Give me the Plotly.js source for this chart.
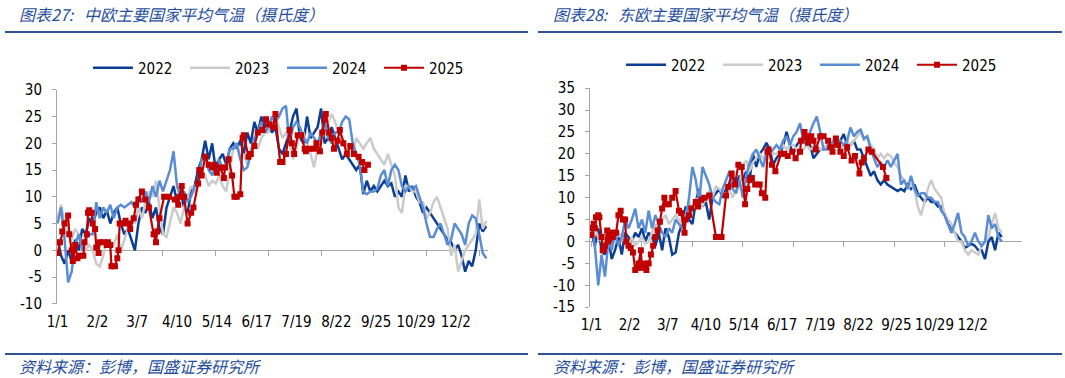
<!DOCTYPE html>
<html><head><meta charset="utf-8">
<script src="https://cdn.plot.ly/plotly-3.0.1.min.js"></script>
<style>html,body{margin:0;padding:0;background:#fff;} #chart{width:1065px;height:378px;}</style>
</head><body><div id="chart"></div>
<script>
// ---------- DATA ----------
const TICK_VALS = [0,34,68,102,136,170,204,238,272,306,340];
const TICK_TEXT = ['1/1','2/2','3/7','4/10','5/14','6/17','7/19','8/22','9/25','10/29','12/2'];
const MINOR_TICKS = [0,45,90,135,180,225,270,315,360];
const Y_TICKS_L = [-10,-5,0,5,10,15,20,25,30];
const Y_TEXT_L = ['-10','-5','0','5','10','15','20','25','30'];
const Y_TICKS_R = [-15,-10,-5,0,5,10,15,20,25,30,35];
const Y_TEXT_R = ['-15','-10','-5','0','5','10','15','20','25','30','35'];

const DAYS = [0,3,6,9,12,15,18,21,24,27,30,33,36,39,42,45,48,51,54,57,60,63,66,69,72,75,78,81,84,87,
90,93,96,99,102,105,108,111,114,117,120,123,126,129,132,135,138,141,144,147,150,153,156,159,162,165,168,171,174,177,
180,183,186,189,192,195,198,201,204,207,210,213,216,219,222,225,228,231,234,237,240,243,246,249,252,255,258,261,264,267,
270,273,276,279,282,285,288,291,294,297,300,303,306,309,312,315,318,321,324,327,330,333,336,339,342,345,348,351,354,357,360,363,366];

// 中欧
const CE_2022 = [2,-1,-2.5,0,-2,2,0,4,3,6, 5,7,8,6,7.5,5,7,8,5,3, 4,2,0,5,8,7,9,6,8,4,
 3,8,10,12,9,11,8,7,11,12, 15,17,20.5,17,20,15,17,18,16,19, 20,19,20.5,18,22,20,24,22,25,23,
 24,22,23,19,18,20,22,25,26.5,21, 20,25,21,22,23,26.5,20,21,23,21, 19,17,18,17,16,15,16,10.5,13,11,
 12,11,12,13,12,12.5,10,11,10,14, 11,12,10,9,7,8,7,6,5,4, 3,2,1.5,0,1,-1,-4,-2,-3,0, 5,3.5,4.5];
const CE_2023 = [6,8.5,5,3,2,4,3,1,0,1, 0,-2.5,-3,-1,2,0.5,1,3,0,2, 4,6,5,8,6,9,11,10,13,8,
 3,2.5,5,8,7,5,8,10,12,11, 12,15,14,12,13,12.5,14,12,11,15, 19,20,17,18,16,19,20,19,21,22,
 22,24,25,23,21,22,20,17,19,22, 22,20,18,15.5,19,21,22,24,25.5,24, 22,21,19,20,18,21,20,19,20,21,
 19,18,17,16,18,16,14,8,7,12, 12,11,11,9,9,6,7,9,10,8, 6,4,-1,1,-4,-2,0,1,2,3, 9.5,4,5.5];
const CE_2024 = [5,8,2,-6,-4,1,3,0,2,3, 3,9,6,8,7,8.5,6,8,8.5,8, 8.5,9,8,10,9,11,9,12,10,13,
 11,13,15,18.5,12,10,11,9,10,12, 13,17,18,15,14,16,17,15,16,19, 19,20,17,15,15.5,18,21,22,24,22,
 23,25,24,25,26.5,27,20,23,24,23, 21,20,22,21,20,22,24,21,20,22, 22,24,25,24.5,20,18,16,11,10.5,11,
 11,11.5,14,15,12,15,16,15,12,11, 12,11.5,12,10,8,5,2.5,2.5,4,5, 3,1,2,5,4,3,1,5,6.5,6, 3,-0.5,-1.5];
const CE_2025_X = [0,2,4,6,9,10,12,13,15,17,19,22,23,25,26,27,29,30,32,33,35,36,39,42,43,45,46,49,51,52,
 53,56,58,61,62,65,67,69,72,75,78,82,84,85,87,91,95,100,103,104,106,108,111,114,116,120,121,123,126,129,
 132,134,136,139,142,143,146,149,151,153,156,158,159,163,165,168,171,175,178,181,184,186,190,192,195,198,200,202,205,208,
 211,212,215,219,221,224,226,228,229,232,234,236,239,241,244,247,250,253,257,260,262,265];
const CE_2025 = [-0.5,1.5,3.5,5,6.5,3,0,-2,1,-1.5,-1,-1,1.5,3,7,7.5,7,5,4,0.5,-0.5,1.5,1.5,1,1.5,1,-3,-3,-1.5,0,
 5,5,5.5,5,4,6,8.5,9.5,11,9.5,8,3,1.5,3.5,6,10,10,9.5,8.5,10,12,10,5,7,8,12.5,15,14,17.5,16,
 15.5,16,14.5,15.5,13.5,15.5,17,14,10,10,10.5,21,21.5,17.5,18,19.5,22,22.5,24.5,23.5,23,25.5,16.5,16.5,18,22.5,20,18,21.5,21.5,
 19,18.5,19,19,20,18.5,22,24.5,25.5,22,21,19,20.5,22.5,20,18,19.5,18,17.5,16.5,15,16];

// 东欧
const EE_2022 = [2,-1,3,-2,-3,1,-4,-2,1,-3, 2,1,0,2,1,3,0,2,1,-1, 2,-2,3,1,-3,-2.5,2,4,8,5,
 4,9,12,8,9,5,10,11,12,10, 12,13,15,13,15,14,16,14,20,17, 20,21,22.5,21,17.5,19,20,22,25,22,
 20,22,23,23.5,23,22,19,20,21,21, 22,21,22,22,23,24.5,22,22,23,21, 21,19,17,15,16,14,13,14,13,12.5,
 12,11.5,12,11.5,13,12,13,11,10,9, 10,9,9,8,8,6,4,3,2,1, 0,-1.5,-1,-0.5,-1,-2,-2,-4,0,1, -2,2,1];
const EE_2023 = [5,3,1,0,2,1,-1,0,2,1, 0,-1,1,-1,0,1,-0.5,0,2,4, 3,5,6,4,5,6,5,4,6,9,
 7,9.5,10,8,10,11.5,10,12.5,12,11, 11,12,10,12,13,17.5,18.5,16,18,19, 20,19,20,21,20,20,21,22,21,22,
 22,21,20,21,22,21,21.5,22,21,21, 22,23,22,23,21,22,23,22,23,24, 25,23,24,22,21,19,20,19,20,19.5,
 18,17,15,14,12,13,12,8,6,9, 12,14,12,11,10,6,5,4,2,0, 0,-2,-3,-2,-2.5,-3,-1,0,1,4, 6.5,3,2];
const EE_2024 = [4,-1,-10,-3,-8,0,-2,2,-1,1, 5,3,5,7.5,3,5,2,7,3,6, 4,2,1,3,2,5,4,3,5,10,
 17,14,9,17,15,13,10,9,8.5,12, 14,16,12,11,14,10,15,18,20,21, 19,17,20,20,21,22,21,23,24,22,
 24,25,27,23,22,25,27,28.5,25,21, 21,22,23,22,23,22,23,26,24,25, 25.5,23.5,24,21,19,17,18,17,18.5,17,
 18.5,20,13,14,12,15,12,10.5,11,11, 10,10,9,9,7,6,4,2,4,6.5, 2,1,-1,0,2,0,-1,0,6,3, 4,1,0];
const EE_2025_X = [0,1,2,3,4,6,7,9,10,11,12,14,15,16,17,19,20,22,24,26,28,30,31,33,35,37,39,41,42,44,
 45,47,49,51,53,55,57,59,61,63,65,67,69,72,75,78,80,83,84,87,89,93,95,98,101,105,111,116,120,122,
 125,128,131,134,137,139,141,143,146,150,152,155,157,158,161,164,169,172,175,179,182,186,187,190,192,193,196,198,200,204,
 207,211,213,215,218,220,222,225,228,232,235,239,241,243,247,250,260,263];
const EE_2025 = [1.5,3,4,3,5.5,6,5.5,1,-2,-2,-1,2.5,0,0.5,2,1,2,2,6,7,5,5,0,-1,-1.5,-2.5,-6.5,-6,-5,-2,
 -6,-5,-6.5,-5,-3,-1,1,2.5,4.5,7.5,10,8.5,8.5,10,11.5,7,6.5,2,5,6,7.5,9,8,9.5,10,10.5,1,1,10.5,12.5,
 15.5,13,17.5,17,8.5,12,14,14.5,13,13,11,10,20.5,21,17.5,16,20,20,19.5,20.5,19,20.5,23,25,24,22.5,24,23,21,24,
 24,23,21.5,20.5,23.5,22,20.5,19.5,21.5,18.5,19.5,15.5,18,19,21,20.5,17,14.5];

const SERIES_NAMES = ['2022','2023','2024','2025'];
const COLORS = ['#0B3E95','#CBCBCB','#5A8DD3','#C00000'];

// ---------- LAYOUT HELPERS ----------
const W = 1065, H = 378;
const fx = v => v / W;
const fy = v => 1 - v / H;
const AX = '#A6A6A6';
const TXT_BLUE = '#1F4E9E';
const RULE_BLUE = '#2E5598';
const FONT = 'DejaVu Sans Condensed, DejaVu Sans, sans-serif';
const CJK = 'Noto Sans CJK SC, sans-serif';

function hist(x, y, name, color, xa, ya, legend, show) {
  return {type:'scatter', mode:'lines', x:x, y:y, name:name, xaxis:xa, yaxis:ya, legend:legend,
          showlegend:show, line:{color:color, width:2.5}, hoverinfo:'skip'};
}
function cur(x, y, name, color, xa, ya, legend) {
  return {type:'scatter', mode:'lines+markers', x:x, y:y, name:name, xaxis:xa, yaxis:ya, legend:legend,
          line:{color:color, width:2.2}, marker:{symbol:'square', size:6, color:color}, hoverinfo:'skip'};
}

const traces = [
  {type:'scatter', x:[], y:[], xaxis:'x3', yaxis:'y', showlegend:false},
  {type:'scatter', x:[], y:[], xaxis:'x4', yaxis:'y2', showlegend:false},
  hist(DAYS, CE_2022, SERIES_NAMES[0], COLORS[0], 'x', 'y', 'legend', true),
  hist(DAYS, CE_2023, SERIES_NAMES[1], COLORS[1], 'x', 'y', 'legend', true),
  hist(DAYS, CE_2024, SERIES_NAMES[2], COLORS[2], 'x', 'y', 'legend', true),
  cur(CE_2025_X, CE_2025, SERIES_NAMES[3], COLORS[3], 'x', 'y', 'legend'),
  hist(DAYS, EE_2022, SERIES_NAMES[0], COLORS[0], 'x2', 'y2', 'legend2', true),
  hist(DAYS, EE_2023, SERIES_NAMES[1], COLORS[1], 'x2', 'y2', 'legend2', true),
  hist(DAYS, EE_2024, SERIES_NAMES[2], COLORS[2], 'x2', 'y2', 'legend2', true),
  cur(EE_2025_X, EE_2025, SERIES_NAMES[3], COLORS[3], 'x2', 'y2', 'legend2')
];

const tickFont = {family:FONT, size:15, color:'#000'};
const yDomL = [fy(303.8), fy(89.8)];
const yDomR = [fy(307.2), fy(88.1)];
const rangeL = [-0.5, 367.5];
const rangeR = [-1.34, 384];

function xLabelAxis(domain, range, anchor) {
  return {domain:domain, range:range, anchor:anchor, tickmode:'array', tickvals:TICK_VALS, ticktext:TICK_TEXT,
          showline:false, ticks:'', showgrid:false, zeroline:false, tickfont:tickFont, ticklabelstandoff:7, fixedrange:true};
}
function yAxis(domain, range, anchor, tv, tt) {
  return {domain:domain, range:range, anchor:anchor, tickmode:'array', tickvals:tv, ticktext:tt,
          showline:true, linecolor:AX, linewidth:1, ticks:'outside', ticklen:4, tickcolor:AX, tickwidth:1,
          showgrid:false, zeroline:false, tickfont:tickFont, ticklabelstandoff:7, fixedrange:true};
}
function zeroAxis(over, range, pos) {
  return {overlaying:over, anchor:'free', position:pos, range:range, tickmode:'array', tickvals:MINOR_TICKS,
          showticklabels:false, ticks:'outside', ticklen:5, tickcolor:AX, tickwidth:1, side:'bottom',
          showline:true, linecolor:AX, linewidth:1, showgrid:false, zeroline:false, layer:'below traces', fixedrange:true};
}
function legendAt(x, y) {
  return {orientation:'h', x:x, y:y, xanchor:'left', yanchor:'middle', bgcolor:'rgba(0,0,0,0)',
          font:{family:FONT, size:15, color:'#000'}, itemwidth:40, entrywidthmode:'pixels', entrywidth:42,
          traceorder:'normal', itemclick:false, itemdoubleclick:false};
}

const layout = {
  width:W, height:H, margin:{l:0, r:0, t:0, b:0}, paper_bgcolor:'#fff', plot_bgcolor:'rgba(0,0,0,0)',
  showlegend:true,
  xaxis: xLabelAxis([fx(57), fx(488)], rangeL, 'y'),
  yaxis: yAxis(yDomL, [-10,30], 'x', Y_TICKS_L, Y_TEXT_L),
  xaxis2: xLabelAxis([fx(590), fx(1022)], rangeR, 'y2'),
  yaxis2: yAxis(yDomR, [-15,35], 'x2', Y_TICKS_R, Y_TEXT_R),
  xaxis3: zeroAxis('x', rangeL, yDomL[0] + 0.25 * (yDomL[1] - yDomL[0])),
  xaxis4: zeroAxis('x2', rangeR, yDomR[0] + 0.30 * (yDomR[1] - yDomR[0])),
  legend: legendAt(fx(88), fy(68)),
  legend2: legendAt(fx(621), fy(65)),
  shapes: [
    {type:'line', xref:'paper', yref:'paper', x0:fx(5), x1:fx(528), y0:fy(32), y1:fy(32), line:{color:RULE_BLUE, width:2}},
    {type:'line', xref:'paper', yref:'paper', x0:fx(538), x1:fx(1062), y0:fy(32), y1:fy(32), line:{color:RULE_BLUE, width:2}},
    {type:'line', xref:'paper', yref:'paper', x0:fx(5), x1:fx(528), y0:fy(354), y1:fy(354), line:{color:RULE_BLUE, width:2}},
    {type:'line', xref:'paper', yref:'paper', x0:fx(538), x1:fx(1062), y0:fy(354), y1:fy(354), line:{color:RULE_BLUE, width:2}}
  ],
  annotations: [
    {text:'图表27:   中欧主要国家平均气温（摄氏度）', xref:'paper', yref:'paper', x:fx(17), y:fy(14), xanchor:'left', yanchor:'middle',
     showarrow:false, font:{family:CJK, size:16, color:TXT_BLUE, style:'italic'}},
    {text:'图表28:   东欧主要国家平均气温（摄氏度）', xref:'paper', yref:'paper', x:fx(551), y:fy(14), xanchor:'left', yanchor:'middle',
     showarrow:false, font:{family:CJK, size:16, color:TXT_BLUE, style:'italic'}},
    {text:'资料来源：彭博，国盛证券研究所', xref:'paper', yref:'paper', x:fx(17), y:fy(366), xanchor:'left', yanchor:'middle',
     showarrow:false, font:{family:CJK, size:16, color:TXT_BLUE, style:'italic'}},
    {text:'资料来源：彭博，国盛证券研究所', xref:'paper', yref:'paper', x:fx(551), y:fy(366), xanchor:'left', yanchor:'middle',
     showarrow:false, font:{family:CJK, size:16, color:TXT_BLUE, style:'italic'}}
  ]
};

Plotly.newPlot('chart', traces, layout, {staticPlot:true, displayModeBar:false});
</script></body></html>
